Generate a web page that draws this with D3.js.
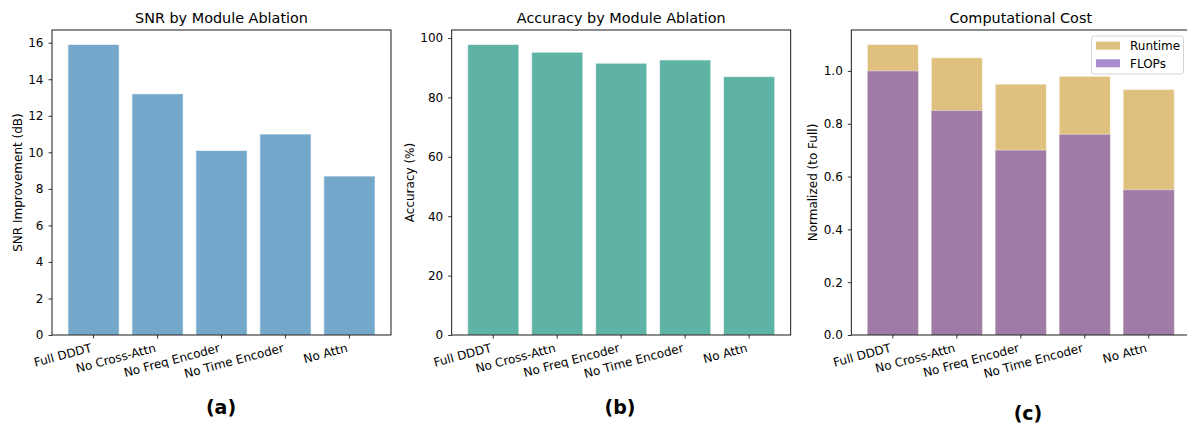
<!DOCTYPE html>
<html>
<head>
<meta charset="utf-8">
<script src="https://cdn.jsdelivr.net/npm/d3@7"></script>
<style>
  html, body { margin: 0; padding: 0; background: #fff; }
  svg { display: block; }
  text { font-family: "DejaVu Sans", sans-serif; fill: #000; }
</style>
</head>
<body>
<svg id="chart" width="1187" height="426"></svg>
<script>
// ---- data ----
const categories = ["Full DDDT", "No Cross-Attn", "No Freq Encoder", "No Time Encoder", "No Attn"];
const snrValues = [15.9, 13.2, 10.1, 11.0, 8.7];
const accuracyValues = [97.8, 95.2, 91.5, 92.6, 87.0];
const runtimeValues = [1.10, 1.05, 0.95, 0.98, 0.93];
const flopsValues = [1.00, 0.85, 0.70, 0.76, 0.55];
const snrTicks = [0, 2, 4, 6, 8, 10, 12, 14, 16];
const accTicks = [0, 20, 40, 60, 80, 100];
const costTicks = [0, 0.2, 0.4, 0.6, 0.8, 1.0];
const legendLabels = ["Runtime", "FLOPs"];

const svg = d3.select("#chart");
const axTop = 30, axBottom = 335;

function panel(opts) {
  const g = svg.append("g");
  const x = d3.scaleBand().domain(categories)
    .range([opts.left, opts.right]).paddingInner(0.2).paddingOuter(0.25);
  const y = d3.scaleLinear().domain([0, opts.ymax]).range([axBottom, axTop]);

  opts.draw(g, x, y);

  // y axis
  const ya = g.append("g").attr("transform", `translate(${opts.left},0)`)
    .call(d3.axisLeft(y).tickValues(opts.ticks).tickFormat(opts.fmt).tickSize(3.5).tickPadding(5));
  ya.select(".domain").remove();
  ya.selectAll(".tick line").attr("stroke", "#000").attr("stroke-width", 0.8);
  ya.selectAll(".tick text").style("font-size", "12px").attr("fill", "#000");

  // x axis
  const xa = g.append("g").attr("transform", `translate(0,${axBottom})`)
    .call(d3.axisBottom(x).tickSize(3.5).tickPadding(3.5));
  xa.select(".domain").remove();
  xa.selectAll(".tick line").attr("stroke", "#000").attr("stroke-width", 0.8);
  xa.selectAll(".tick text")
    .style("font-size", "12px")
    .attr("fill", "#000")
    .attr("text-anchor", "end")
    .attr("dy", null)
    .attr("x", 0).attr("y", 0)
    .attr("transform", "translate(-1,16.5) rotate(-15)");

  // frame
  g.append("rect").attr("x", opts.left).attr("y", axTop)
    .attr("width", opts.right - opts.left).attr("height", axBottom - axTop)
    .attr("fill", "none").attr("stroke", "#000").attr("stroke-width", 0.9);

  // title
  g.append("text").attr("x", (opts.left + opts.right) / 2).attr("y", 23)
    .attr("text-anchor", "middle").style("font-size", "14.4px").text(opts.title);

  // y label
  g.append("text")
    .attr("transform", `translate(${opts.ylabelX},${(axTop + axBottom) / 2}) rotate(-90)`)
    .attr("text-anchor", "middle").style("font-size", "12px").text(opts.ylabel);

  // subplot label
  g.append("text").attr("x", opts.tagX).attr("y", opts.tagY)
    .attr("text-anchor", "middle").style("font-size", "19px").style("font-weight", "bold")
    .text(opts.tag);
}

function simpleBars(values, color) {
  return (g, x, y) => {
    g.selectAll("rect.bar").data(values).join("rect").attr("class", "bar")
      .attr("x", (d, i) => x(categories[i]))
      .attr("width", x.bandwidth())
      .attr("y", d => y(d))
      .attr("height", d => y(0) - y(d))
      .attr("fill", color)
      .attr("stroke", "#ffffff").attr("stroke-opacity", 0.6).attr("stroke-width", 1);
  };
}

panel({
  left: 52, right: 391, ymax: 15.9 * 1.05, ticks: snrTicks, fmt: d3.format("d"),
  title: "SNR by Module Ablation", ylabel: "SNR Improvement (dB)", ylabelX: 21.5,
  tag: "(a)", tagX: 221, tagY: 414,
  draw: simpleBars(snrValues, "#73a8cb")
});

panel({
  left: 451.7, right: 790.7, ymax: 97.8 * 1.05, ticks: accTicks, fmt: d3.format("d"),
  title: "Accuracy by Module Ablation", ylabel: "Accuracy (%)", ylabelX: 414,
  tag: "(b)", tagX: 620, tagY: 414,
  draw: simpleBars(accuracyValues, "#5fb3a4")
});

panel({
  left: 851.3, right: 1190.3, ymax: 1.10 * 1.05, ticks: costTicks, fmt: d3.format(".1f"),
  title: "Computational Cost", ylabel: "Normalized (to Full)", ylabelX: 817,
  tag: "(c)", tagX: 1028, tagY: 420,
  draw: (g, x, y) => {
    g.selectAll("rect.rt").data(runtimeValues).join("rect").attr("class", "rt")
      .attr("x", (d, i) => x(categories[i])).attr("width", x.bandwidth())
      .attr("y", d => y(d)).attr("height", d => y(0) - y(d))
      .attr("fill", "#e0c07f")
      .attr("stroke", "#ffffff").attr("stroke-opacity", 0.6).attr("stroke-width", 1);
    g.selectAll("rect.fl").data(flopsValues).join("rect").attr("class", "fl")
      .attr("x", (d, i) => x(categories[i])).attr("width", x.bandwidth())
      .attr("y", d => y(d)).attr("height", d => y(0) - y(d))
      .attr("fill", "#9f7ca8")
      .attr("stroke", "#ffffff").attr("stroke-opacity", 0.4).attr("stroke-width", 1);

    // legend
    const lg = g.append("g");
    lg.append("rect").attr("x", 1091.5).attr("y", 36).attr("width", 92).attr("height", 38)
      .attr("rx", 2.5).attr("fill", "#fff").attr("fill-opacity", 0.8)
      .attr("stroke", "#d0d0d0").attr("stroke-width", 0.9);
    const swatch = ["#e0c07f", "#a98cd0"];
    legendLabels.forEach((lab, i) => {
      const cy = 45.7 + i * 17.6;
      lg.append("rect").attr("x", 1096).attr("y", cy - 4).attr("width", 24).attr("height", 8)
        .attr("fill", swatch[i]);
      lg.append("text").attr("x", 1130).attr("y", cy + 4.3).style("font-size", "12px").text(lab);
    });
  }
});
</script>
</body>
</html>
